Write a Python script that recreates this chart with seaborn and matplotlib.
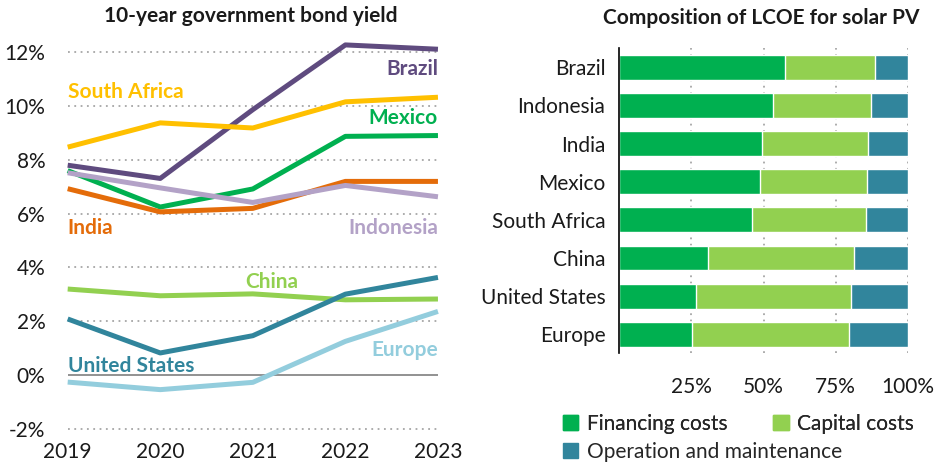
import pandas as pd
import matplotlib.pyplot as plt
import seaborn as sns
from matplotlib.patches import Patch

# === Data: 10-year government bond yield (%)
years = [2019, 2020, 2021, 2022, 2023]
brazil = [7.79, 7.30, 9.85, 12.25, 12.09]
south_africa = [8.46, 9.36, 9.17, 10.14, 10.31]
mexico = [7.59, 6.24, 6.91, 8.86, 8.89]
india = [6.92, 6.06, 6.19, 7.19, 7.19]
indonesia = [7.51, 6.95, 6.41, 7.04, 6.62]
china = [3.20, 2.95, 3.02, 2.80, 2.83]
united_states = [2.09, 0.83, 1.47, 3.01, 3.63]
europe = [-0.25, -0.53, -0.26, 1.26, 2.37]
yield_ticks = [-2, 0, 2, 4, 6, 8, 10, 12]

# === Data: LCOE composition solar PV (%)
lcoe_countries = ["Brazil", "Indonesia", "India", "Mexico", "South Africa",
                  "China", "United States", "Europe"]
financing = [57.6, 53.4, 49.4, 48.8, 45.9, 30.8, 26.6, 25.2]
capital = [31.1, 34.0, 36.7, 37.2, 39.5, 50.5, 53.6, 54.4]
om = [11.3, 12.6, 13.9, 14.0, 14.6, 18.7, 19.8, 20.4]
share_ticks = [25, 50, 75, 100]

# === Kleuren
kleuren = {
    "Brazil": "#5F4B7F",
    "South Africa": "#FFC000",
    "Mexico": "#00B050",
    "India": "#E46C0A",
    "Indonesia": "#B3A2C7",
    "China": "#92D050",
    "United States": "#31859C",
    "Europe": "#93CDDD",
}
c_fin, c_cap, c_om = "#00B050", "#92D050", "#31859C"

sns.set_theme(style="white")
plt.rcParams["font.family"] = ["Lato", "DejaVu Sans"]

series = {
    "Brazil": brazil, "South Africa": south_africa, "Mexico": mexico,
    "India": india, "Indonesia": indonesia, "China": china,
    "United States": united_states, "Europe": europe,
}
df_yield = pd.DataFrame(
    [{"Year": y, "Country": k, "Yield": v}
     for k, vals in series.items() for y, v in zip(years, vals)]
)

fig = plt.figure(figsize=(9.35, 4.65), dpi=100)
ax1 = fig.add_axes([0.0724, 0.0652, 0.3960, 0.8469])
ax2 = fig.add_axes([0.6624, 0.2402, 0.3084, 0.6559])

# === Linker grafiek
for y in yield_ticks:
    if y == 0:
        ax1.axhline(0, color="#7f7f7f", lw=1.2, zorder=1)
    else:
        ax1.axhline(y, color="#a6a6a6", lw=1.3, ls=(0, (1, 2.5)), zorder=1)

sns.lineplot(data=df_yield, x="Year", y="Yield", hue="Country",
             palette=kleuren, lw=3.6, ax=ax1, legend=False, zorder=3)
for line in ax1.get_lines():
    line.set_clip_on(False)
    line.set_solid_capstyle("butt")

ax1.set_xlim(2019, 2023)
ax1.set_ylim(-2.2, 12.4)
ax1.set_xticks(years)
ax1.set_yticks(yield_ticks)
ax1.set_yticklabels([f"{t}%" for t in yield_ticks])
ax1.tick_params(axis="y", labelsize=15, pad=16, length=0, labelcolor="#1a1a1a")
ax1.tick_params(axis="x", labelsize=15, pad=5, length=0, labelcolor="#1a1a1a")
ax1.set_xlabel("")
ax1.set_ylabel("")
sns.despine(ax=ax1, left=True, bottom=True)
fig.text(0.2685, 0.966, "10-year government bond yield", fontsize=15,
         weight="bold", ha="center", va="center", color="#1a1a1a")

lbl = dict(fontsize=15, weight="bold")
ax1.text(2023, 11.35, "Brazil", color=kleuren["Brazil"], ha="right", va="center", **lbl)
ax1.text(2019, 10.5, "South Africa", color=kleuren["South Africa"], ha="left", va="center", **lbl)
ax1.text(2023, 9.55, "Mexico", color=kleuren["Mexico"], ha="right", va="center", **lbl)
ax1.text(2019, 5.45, "India", color=kleuren["India"], ha="left", va="center", **lbl)
ax1.text(2023, 5.45, "Indonesia", color=kleuren["Indonesia"], ha="right", va="center", **lbl)
ax1.text(2021.2, 3.45, "China", color=kleuren["China"], ha="center", va="center", **lbl)
ax1.text(2019, 0.35, "United States", color=kleuren["United States"], ha="left", va="center", **lbl)
ax1.text(2023, 0.95, "Europe", color=kleuren["Europe"], ha="right", va="center", **lbl)

# === Rechter grafiek (gestapelde balken)
df_lcoe = pd.DataFrame({"Country": lcoe_countries, "Financing": financing,
                        "Capital": capital, "OM": om})
df_lcoe["cum_cap"] = df_lcoe["Financing"] + df_lcoe["Capital"]
df_lcoe["cum_om"] = df_lcoe["cum_cap"] + df_lcoe["OM"]

for x in share_ticks:
    ax2.axvline(x, color="#a6a6a6", lw=1.3, ls=(0, (1, 2.5)), zorder=0)

sns.barplot(data=df_lcoe, y="Country", x="cum_om", color=c_om, width=0.65,
            ax=ax2, orient="h", saturation=1, zorder=2)
sns.barplot(data=df_lcoe, y="Country", x="cum_cap", color=c_cap, width=0.65,
            ax=ax2, orient="h", saturation=1, zorder=2)
sns.barplot(data=df_lcoe, y="Country", x="Financing", color=c_fin, width=0.65,
            ax=ax2, orient="h", saturation=1, zorder=2)

ax2.set_xlim(0, 100)
ax2.set_ylim(7.5, -0.5)
ax2.set_xticks(share_ticks)
ax2.set_xticklabels([f"{t}%" for t in share_ticks])
ax2.tick_params(axis="x", labelsize=15, pad=17, length=0, labelcolor="#1a1a1a")
ax2.tick_params(axis="y", labelsize=15, pad=10, length=0, labelcolor="#1a1a1a")
ax2.set_xlabel("")
ax2.set_ylabel("")
sns.despine(ax=ax2, bottom=True)
ax2.spines["left"].set_color("black")
ax2.spines["left"].set_linewidth(1.2)
fig.text(0.814, 0.962, "Composition of LCOE for solar PV", fontsize=15,
         weight="bold", ha="center", va="center", color="#1a1a1a")

# legenda: twee rijen, eerste rij met twee items
leg_kw = dict(loc="center left", frameon=False, fontsize=15,
              handlelength=0.75, handleheight=0.75, handletextpad=0.4,
              borderaxespad=0, borderpad=0)
leg1 = fig.legend(handles=[Patch(color=c_fin, label="Financing costs"),
                           Patch(color=c_cap, label="Capital costs")],
                  ncol=2, columnspacing=2.2,
                  bbox_to_anchor=(0.602, 1 - 424 / 465), **leg_kw)
fig.legend(handles=[Patch(color=c_om, label="Operation and maintenance")],
           bbox_to_anchor=(0.602, 1 - 452 / 465), **leg_kw)
fig.add_artist(leg1)

fig.savefig("out.png", dpi=100)
